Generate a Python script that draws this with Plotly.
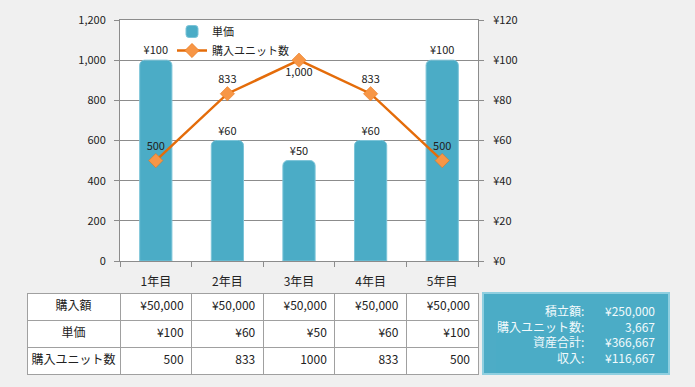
import plotly.graph_objects as go

categories = ["1年目", "2年目", "3年目", "4年目", "5年目"]
unit_price = [100, 60, 50, 60, 100]
units = [500, 833, 1000, 833, 500]
purchase_amount = [50000, 50000, 50000, 50000, 50000]
units_table = [500, 833, 1000, 833, 500]
row_labels = ["購入額", "単価", "購入ユニット数"]
summary_labels = ["積立額:", "購入ユニット数:", "資産合計:", "収入:"]
summary_values = ["¥250,000", "3,667", "¥366,667", "¥116,667"]

W, H = 695, 387
FONT = "Noto Sans CJK JP"
BAR = "#4BACC6"
LINE = "#E46C0A"
MARK = "#F79646"
BG = "#F0F0F0"
GRID = "#8C8C8C"

def px(x):
    return x / W

def py(y):
    return 1 - y / H

fig = go.Figure()

# Bars on the primary (¥, right side) axis so that the line sits on top
fig.add_trace(go.Bar(
    x=categories, y=unit_price, name="単価", yaxis="y",
    marker=dict(color=BAR, cornerradius=5, line=dict(width=1, color="#7CC4D8")),
    width=0.45,
    text=[f"¥{v}" for v in unit_price], textposition="outside",
    textfont=dict(size=11, color="#222222"), cliponaxis=False,
))

positions = ["top center" if i != 2 else "bottom center" for i in range(len(units))]
fig.add_trace(go.Scatter(
    x=categories, y=units, name="購入ユニット数", yaxis="y2",
    mode="lines+markers+text",
    line=dict(color=LINE, width=2.5),
    marker=dict(symbol="diamond", size=11, color=MARK, line=dict(color=LINE, width=0.5)),
    text=[f"{v:,}" for v in units], textposition=positions,
    textfont=dict(size=11, color="#222222"), cliponaxis=False,
))

# Table
fmt_amount = [f"¥{v:,}" for v in purchase_amount]
fmt_price = [f"¥{v}" for v in unit_price]
fmt_units = [str(v) for v in units_table]
header_vals = [row_labels[0]] + fmt_amount
cols = [[row_labels[1], row_labels[2]]] + [[fmt_price[i], fmt_units[i]] for i in range(5)]
cw = [93] + [71.6] * 5
aligns = ["center"] + ["right"] * 5
fig.add_trace(go.Table(
    domain=dict(x=[px(27), px(478)], y=[py(378), py(293)]),
    columnwidth=cw,
    header=dict(values=header_vals, align=aligns, height=27,
                fill=dict(color="white"), line=dict(color="#A0A0A0", width=1),
                font=dict(family=FONT, size=12, color="#222222")),
    cells=dict(values=cols, align=aligns, height=27,
               fill=dict(color="white"), line=dict(color="#A0A0A0", width=1),
               font=dict(family=FONT, size=12, color="#222222")),
))

# Summary box
fig.add_shape(type="rect", xref="paper", yref="paper",
              x0=px(483), x1=px(669), y0=py(374), y1=py(293),
              fillcolor=BAR, line=dict(color="#8FCFE0", width=2), layer="below")
fig.add_annotation(xref="paper", yref="paper", x=px(586), y=py(334),
                   text="<br>".join(summary_labels), showarrow=False,
                   xanchor="right", yanchor="middle", align="right",
                   font=dict(family=FONT, size=12, color="#F2FAFC"))
fig.add_annotation(xref="paper", yref="paper", x=px(657), y=py(334),
                   text="<br>".join(summary_values), showarrow=False,
                   xanchor="right", yanchor="middle", align="right",
                   font=dict(family=FONT, size=12, color="#F2FAFC"))

fig.update_layout(
    width=W, height=H,
    margin=dict(l=0, r=0, t=0, b=0),
    paper_bgcolor=BG, plot_bgcolor="white",
    font=dict(family=FONT, size=11, color="#222222"),
    showlegend=True,
    legend=dict(x=px(172), y=py(17), xanchor="left", yanchor="top",
                bgcolor="rgba(0,0,0,0)", font=dict(size=11), tracegroupgap=0,
                itemwidth=30),
    xaxis=dict(domain=[px(120), px(478)], type="category",
               showline=True, linecolor=GRID, linewidth=1, mirror=True,
               ticks="outside", ticklen=5, tickcolor=GRID, tickson="boundaries",
               ticklabelstandoff=10,
               showgrid=False, tickfont=dict(size=12), automargin=False,
               anchor="y"),
    yaxis=dict(domain=[py(261), py(20)], range=[0, 120], dtick=20,
               side="right", tickprefix="¥", showline=True, linecolor=GRID, linewidth=1,
               ticks="outside", ticklen=5, tickcolor=GRID, ticklabelstandoff=7,
               showgrid=True, gridcolor=GRID, gridwidth=1, zeroline=False,
               automargin=False, tickfont=dict(size=11), anchor="x"),
    yaxis2=dict(overlaying="y", side="left", range=[0, 1200], dtick=200,
                tickformat=",", showline=True, linecolor=GRID, linewidth=1,
                ticks="outside", ticklen=5, tickcolor=GRID, ticklabelstandoff=6,
                showgrid=False, zeroline=False, automargin=False,
                tickfont=dict(size=11), anchor="x"),
)

fig.write_html(
    "out.html",
    config={"displayModeBar": False},
    post_script="document.body.style.margin='0';document.body.style.background='#F0F0F0';",
)
